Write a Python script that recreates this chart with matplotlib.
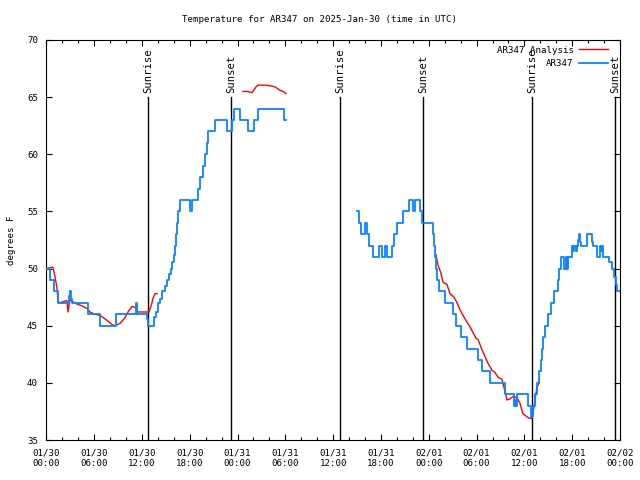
import numpy as np
import pandas as pd
import matplotlib
matplotlib.use("Agg")
import matplotlib.pyplot as plt
import matplotlib.dates as mdates

START = pd.Timestamp("2025-01-30 00:00")

# AR347 observations (hours since 2025-01-30 00:00 UTC, deg F); NaN = data gap
obs_hours = [0.0, 0.46, 0.97, 1.47, 2.85, 2.97, 3.10, 3.22, 5.23, 6.74, 8.75, 11.26, 11.38,
             12.64, 12.76, 13.52, 13.77, 14.02, 14.27, 14.52, 14.90, 15.15, 15.40, 15.65,
             15.77, 16.03, 16.15, 16.28, 16.40, 16.53, 16.78, 18.03, 18.29, 19.04, 19.29,
             19.67, 19.92, 20.17, 20.30, 21.17, 22.68, 23.31, 23.56, 24.31, 25.32, 26.07,
             26.57, 29.83, 30.08,
             38.99, 39.24, 39.49, 39.99, 40.24, 40.50, 41.00, 41.75, 42.13, 42.51, 42.76,
             43.39, 43.64, 44.02, 44.77, 45.52, 46.03, 46.28, 46.90, 47.15, 48.53, 48.66,
             48.78, 48.91, 49.03, 49.28, 50.04, 51.04, 51.42, 52.05, 52.80, 54.18, 54.68,
             55.69, 57.57, 58.70, 58.83, 58.95, 59.08, 60.46, 60.83, 61.08, 61.34, 61.59,
             61.84, 62.09, 62.21, 62.34, 62.59, 62.97, 63.34, 63.72, 64.22, 64.35, 64.60,
             64.98, 65.23, 65.35, 65.48, 65.98, 66.11, 66.23, 66.49, 66.61, 66.74, 66.86,
             66.99, 67.11, 67.87, 68.49, 68.62, 69.12, 69.50, 69.62, 69.75, 69.87, 70.63,
             71.00, 71.26, 71.51, 71.63, 72.0]
obs_temps = [50, 49, 48, 47, 47.6, 48, 47.3, 47, 46, 45, 46, 47, 46,
             45.6, 45, 45.8, 46.2, 47, 47.3, 48, 48.5, 49, 49.5, 50,
             50.6, 51.2, 52, 53, 54, 55, 56, 55, 56, 57, 58,
             59, 60, 61, 62, 63, 62, 63, 64, 63, 62, 63,
             64, 63, np.nan,
             55, 54, 53, 54, 53, 52, 51, 52, 51, 52, 51,
             52, 53, 54, 55, 56, 55, 56, 55, 54, 53, 52,
             51, 50, 49, 48, 47, 46, 45, 44, 43, 42, 41,
             40, 39, 38, 38.5, 38, 39, 38, 37, 38, 39, 40,
             41, 42, 43, 44, 45, 46, 47, 48, 49, 50, 51,
             50, 51, 50, 51, 52, 51.5, 52, 51.5, 52, 52.5, 53,
             52.3, 52, 53, 52.3, 52, 51, 52, 51.5, 52, 51, 50.6,
             50, 49.3, 48.6, 48, 48]

# AR347 Analysis (hours since start, deg F); NaN = gap
ana_hours = [0.0, 0.59, 0.84, 1.09, 1.34, 1.47, 1.72, 2.10, 2.60, 2.72, 2.97, 3.35, 3.85,
             4.23, 4.61, 5.11, 5.48, 6.11, 6.74, 7.37, 7.74, 8.24, 8.62, 9.25, 9.88, 10.25,
             10.76, 11.13, 11.51, 12.14, 12.89, 13.27, 13.39, 13.64, 13.89,
             19.0,
             24.69, 25.19, 25.82, 26.32, 26.57, 27.45, 28.08, 28.70, 29.33, 29.71, 30.08,
             40.0,
             48.91, 49.16, 49.53, 49.79, 50.29, 50.67, 51.17, 51.55, 51.92, 52.30, 52.80,
             53.18, 53.55, 53.93, 54.18, 54.68, 55.06, 55.44, 55.94, 56.31, 56.69, 57.19,
             57.44, 57.69, 57.82, 58.19, 58.57, 59.07, 59.45, 59.82, 60.20, 60.58, 60.95,
             61.21, 61.46, 61.58, 61.84]
ana_temps = [50.0, 50.1, 50.1, 49.3, 48.3, 47.1, 47.0, 47.1, 47.2, 46.2, 47.3, 47.1, 46.9,
             46.8, 46.7, 46.5, 46.2, 46.0, 45.9, 45.6, 45.4, 45.1, 45.0, 45.2, 45.7, 46.2,
             46.7, 46.6, 46.2, 46.2, 46.2, 47.0, 47.4, 47.8, 47.8,
             np.nan,
             65.5, 65.5, 65.4, 65.9, 66.05, 66.05, 66.0, 65.9, 65.6, 65.5, 65.3,
             np.nan,
             51.2, 50.3, 49.6, 48.8, 48.6, 47.8, 47.5, 47.0, 46.4, 45.9, 45.3,
             44.9, 44.4, 43.9, 43.8, 42.9, 42.3, 41.7, 41.1, 40.9, 40.5, 40.3,
             39.6, 38.9, 38.5, 38.6, 38.8, 38.7, 38.2, 37.3, 37.1, 36.9, 36.9,
             37.9, 39.1, 39.6, 40.0]

# Sun events (hours since start)
event_hours = [12.8, 23.2, 36.85, 47.3, 61.0, 71.4]
event_names = ["Sunrise", "Sunset", "Sunrise", "Sunset", "Sunrise", "Sunset"]

title = "Temperature for AR347 on 2025-Jan-30 (time in UTC)"
ylabel = "degrees F"

def to_dt(hours):
    return [START + pd.Timedelta(hours=h) for h in hours]

FONT = "DejaVu Sans Mono"
FS = 6.6
plt.rcParams["font.family"] = FONT
plt.rcParams["font.size"] = FS

fig = plt.figure(figsize=(6.4, 4.8), dpi=100)
ax = fig.add_axes([46.3 / 640, 40 / 480, (620 - 46.3) / 640, 400 / 480])

ax.plot(to_dt(ana_hours), ana_temps, color="#ff0000", lw=1.0, label="AR347 Analysis", zorder=3)
ax.plot(to_dt(obs_hours), obs_temps, color="#0a84ff", lw=1.3, drawstyle="steps-post",
        label="AR347", zorder=4)

for h, name in zip(event_hours, event_names):
    t = START + pd.Timedelta(hours=h)
    ax.plot([t, t], [35, 65], color="black", lw=1.0, zorder=2)
    ax.text(t, 65.35, name, rotation=90, ha="center", va="bottom", fontsize=7.6,
            color="black")

ax.set_xlim(START, START + pd.Timedelta(hours=72))
ax.set_ylim(35, 70)
ax.set_yticks(np.arange(35, 71, 5))
ax.xaxis.set_major_locator(mdates.HourLocator(byhour=range(0, 24, 6)))
ax.xaxis.set_minor_locator(mdates.HourLocator(byhour=range(0, 24, 2)))
ax.xaxis.set_major_formatter(mdates.DateFormatter("%m/%d\n%H:%M"))
ax.tick_params(which="both", direction="in", top=True, right=True, labelsize=FS, width=0.8)
ax.tick_params(which="major", length=4)
ax.tick_params(which="minor", length=2.5)
ax.tick_params(axis="x", which="major", pad=6)
ax.tick_params(axis="y", which="major", pad=6)
for s in ax.spines.values():
    s.set_linewidth(0.8)

fig.text(0.5, 1 - 19 / 480, title, ha="center", va="center", fontsize=FS)
ax.set_ylabel(ylabel, fontsize=FS, labelpad=8)

leg = ax.legend(loc="upper right", frameon=False, markerfirst=False, handlelength=3.2,
                handletextpad=0.6, borderaxespad=0.0, labelspacing=0.45, fontsize=FS,
                bbox_to_anchor=(1 - 8 / 573.7, 1 - 2 / 400))

fig.savefig("out.png", dpi=100)
